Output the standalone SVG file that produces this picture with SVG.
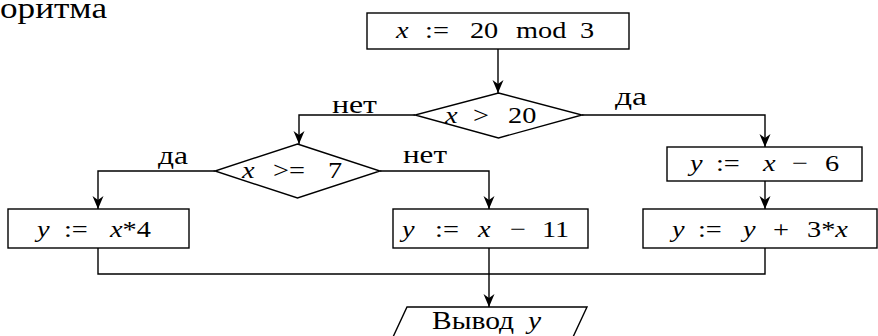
<svg xmlns="http://www.w3.org/2000/svg" width="878" height="336" viewBox="0 0 878 336">
<style>
.shape{fill:#fff;stroke:#000;stroke-width:1.4}
.conn{fill:none;stroke:#000;stroke-width:1.4}
</style>
<defs>
<marker id="ah" markerUnits="userSpaceOnUse" viewBox="-14 -6 15 12" refX="0" refY="0" markerWidth="15" markerHeight="12" orient="auto">
<path d="M0,0 L-13,-5.5 L-9,0 L-13,5.5 Z" fill="#000"/>
</marker>
</defs>
<rect width="878" height="336" fill="#fff"/>
<g font-family="'Liberation Serif', 'Times New Roman', serif" fill="#000">
<text x="0" y="18" font-size="29" textLength="107" lengthAdjust="spacingAndGlyphs">оритма</text>

<g id="connectors">
<path class="conn" d="M498,49 V93" marker-end="url(#ah)"/>
<path class="conn" d="M415,115 H299 V144" marker-end="url(#ah)"/>
<path class="conn" d="M582,115 H765 V147" marker-end="url(#ah)"/>
<path class="conn" d="M765,181 V209" marker-end="url(#ah)"/>
<path class="conn" d="M215,171 H98 V209" marker-end="url(#ah)"/>
<path class="conn" d="M380,171 H489 V209" marker-end="url(#ah)"/>
<path class="conn" d="M98,248 V274 H765 V248"/>
<path class="conn" d="M489,248 V307" marker-end="url(#ah)"/>
<text font-size="26" x="332" y="113" textLength="45" lengthAdjust="spacingAndGlyphs">нет</text>
<text font-size="26" x="615" y="105" textLength="32" lengthAdjust="spacingAndGlyphs">да</text>
<text font-size="26" x="158" y="164" textLength="30" lengthAdjust="spacingAndGlyphs">да</text>
<text font-size="26" x="403" y="163" textLength="44" lengthAdjust="spacingAndGlyphs">нет</text>
</g>

<g id="start">
<rect class="shape" x="367" y="13" width="262" height="36"/>
<text font-size="24" transform="translate(396,38) scale(1.18,1)"><tspan x="0" font-style="italic">x</tspan><tspan x="24.6">:=</tspan><tspan x="62.7">20</tspan><tspan x="101.7">mod</tspan><tspan x="155.9">3</tspan></text>
</g>

<g id="cond1">
<polygon class="shape" points="498.5,93 582,115 498.5,138 415,115"/>
<text font-size="24" transform="translate(445,123) scale(1.18,1)"><tspan x="0" font-style="italic">x</tspan><tspan x="23.7">&gt;</tspan><tspan x="53.4">20</tspan></text>
</g>

<g id="cond2">
<polygon class="shape" points="297.5,144 380,171 297.5,198 215,171"/>
<text font-size="24" transform="translate(242,178) scale(1.18,1)"><tspan x="0" font-style="italic">x</tspan><tspan x="26.3">&gt;=</tspan><tspan x="72.9">7</tspan></text>
</g>

<g id="assign-x4">
<rect class="shape" x="8" y="209" width="181" height="39"/>
<text font-size="24" transform="translate(37,237) scale(1.18,1)"><tspan x="0" font-style="italic">y</tspan><tspan x="22.9">:=</tspan><tspan x="61.9" font-style="italic">x</tspan><tspan>*4</tspan></text>
</g>

<g id="assign-x11">
<rect class="shape" x="393" y="209" width="195" height="39"/>
<text font-size="24" transform="translate(402,237) scale(1.18,1)"><tspan x="0" font-style="italic">y</tspan><tspan x="28">:=</tspan><tspan x="64.4" font-style="italic">x</tspan><tspan x="91.5">−</tspan><tspan x="118.6">11</tspan></text>
</g>

<g id="assign-x6">
<rect class="shape" x="667" y="147" width="195" height="34"/>
<text font-size="24" transform="translate(690,171) scale(1.18,1)"><tspan x="0" font-style="italic">y</tspan><tspan x="22">:=</tspan><tspan x="61.9" font-style="italic">x</tspan><tspan x="86.4">−</tspan><tspan x="114.4">6</tspan></text>
</g>

<g id="assign-y3x">
<rect class="shape" x="643" y="209" width="234" height="39"/>
<text font-size="24" transform="translate(672,237) scale(1.18,1)"><tspan x="0" font-style="italic">y</tspan><tspan x="22">:=</tspan><tspan x="60.2" font-style="italic">y</tspan><tspan x="85.6">+</tspan><tspan x="114.4">3*</tspan><tspan font-style="italic">x</tspan></text>
</g>

<g id="output">
<polygon class="shape" points="407,307 587,307 566,352 386,352"/>
<text font-size="25" transform="translate(432,329) scale(1.18,1)"><tspan x="0">Вывод</tspan><tspan x="81.4" font-style="italic">y</tspan></text>
</g>
</g>
</svg>
